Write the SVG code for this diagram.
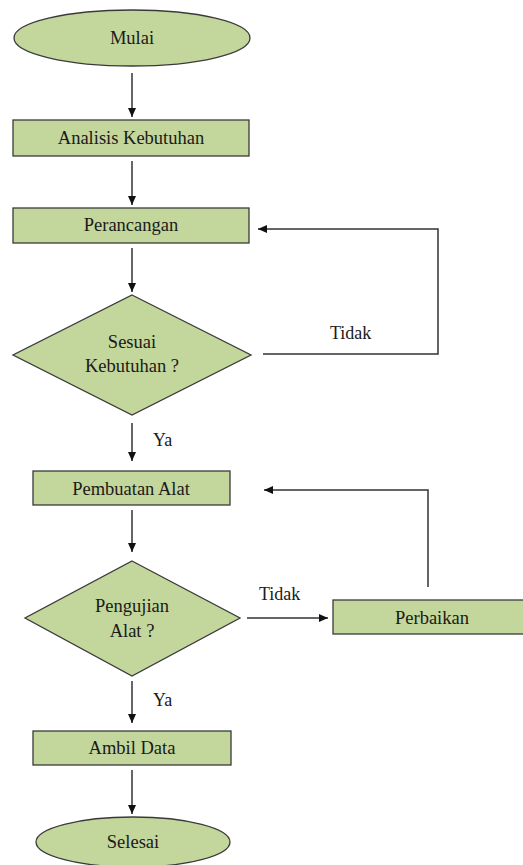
<svg xmlns="http://www.w3.org/2000/svg" width="523" height="865" viewBox="0 0 523 865">
<style>
.n{fill:#c3d69b;stroke:#3a3a3a;stroke-width:1.3}
.t{font-family:"Liberation Serif",serif;font-size:18.5px;fill:#1a1a1a;text-anchor:middle}
.c{fill:none;stroke:#333;stroke-width:1.5}
.l{font-family:"Liberation Serif",serif;font-size:18px;fill:#1a1a1a}
</style>
<defs>
<marker id="ah" markerWidth="10" markerHeight="10" refX="9" refY="5" orient="auto" markerUnits="userSpaceOnUse">
<path d="M0,1 L9,5 L0,9 Z" fill="#111"/>
</marker>
</defs>
<rect width="523" height="865" fill="#fff"/>
<g id="mulai"><ellipse class="n" cx="132" cy="38" rx="118" ry="28"/><text class="t" x="132" y="44">Mulai</text></g>
<g id="analisis"><rect class="n" x="13" y="120" width="236" height="36"/><text class="t" x="131" y="144">Analisis Kebutuhan</text></g>
<g id="perancangan"><rect class="n" x="13" y="208" width="236" height="35"/><text class="t" x="131" y="231">Perancangan</text></g>
<g id="sesuai"><polygon class="n" points="132,295 251,355 132,415 13,355"/><text class="t" x="132" y="348">Sesuai</text><text class="t" x="132" y="372">Kebutuhan ?</text></g>
<g id="pembuatan"><rect class="n" x="33" y="471" width="197" height="34"/><text class="t" x="131" y="495">Pembuatan Alat</text></g>
<g id="pengujian"><polygon class="n" points="132,561 240,618 132,676 25,618"/><text class="t" x="132" y="612">Pengujian</text><text class="t" x="132" y="637">Alat ?</text></g>
<g id="perbaikan"><rect class="n" x="333" y="600" width="195" height="34"/><text class="t" x="432" y="624">Perbaikan</text></g>
<g id="ambil"><rect class="n" x="33" y="731" width="198" height="34"/><text class="t" x="132" y="754">Ambil Data</text></g>
<g id="selesai"><ellipse class="n" cx="133" cy="842" rx="97" ry="25"/><text class="t" x="133" y="848">Selesai</text></g>
<g id="connectors">
<line class="c" x1="132" y1="73" x2="132" y2="117" marker-end="url(#ah)"/>
<line class="c" x1="132" y1="161" x2="132" y2="205" marker-end="url(#ah)"/>
<line class="c" x1="132" y1="248" x2="132" y2="292" marker-end="url(#ah)"/>
<polyline class="c" points="263,354 438,354 438,229 258,229" marker-end="url(#ah)"/>
<line class="c" x1="132" y1="423" x2="132" y2="461" marker-end="url(#ah)"/>
<line class="c" x1="132" y1="510" x2="132" y2="552" marker-end="url(#ah)"/>
<line class="c" x1="247" y1="618" x2="328" y2="618" marker-end="url(#ah)"/>
<polyline class="c" points="428,587 428,490 264,490" marker-end="url(#ah)"/>
<line class="c" x1="132" y1="681" x2="132" y2="723" marker-end="url(#ah)"/>
<line class="c" x1="132" y1="770" x2="132" y2="814" marker-end="url(#ah)"/>
<text class="l" x="330" y="339">Tidak</text>
<text class="l" x="153" y="446">Ya</text>
<text class="l" x="259" y="600">Tidak</text>
<text class="l" x="153" y="706">Ya</text>
</g>
</svg>
